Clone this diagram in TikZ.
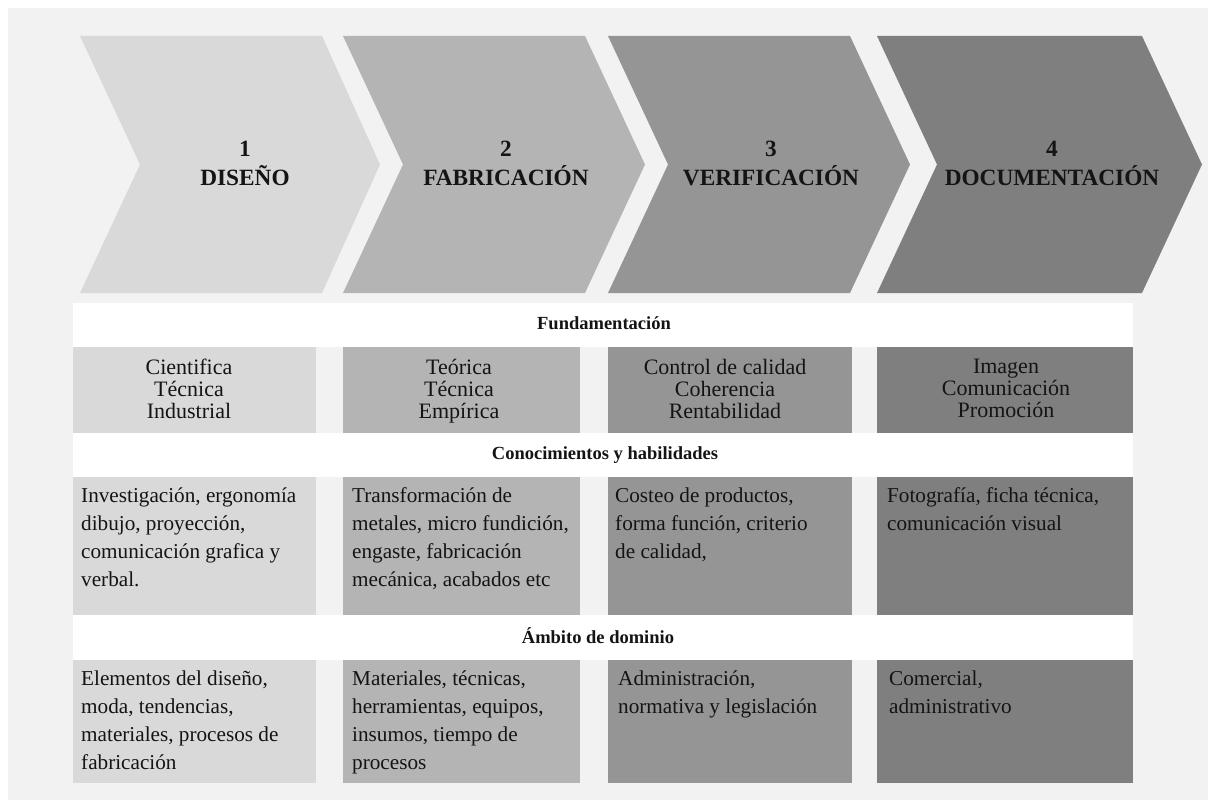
\documentclass[tikz,border=0pt]{standalone}
\usepackage{fontspec}
\setmainfont{Liberation Serif}
\definecolor{bg}{HTML}{F2F2F2}
\definecolor{cA}{HTML}{D9D9D9}
\definecolor{cB}{HTML}{B4B4B4}
\definecolor{cC}{HTML}{959595}
\definecolor{cD}{HTML}{7F7F7F}
\definecolor{ink}{HTML}{141414}
\begin{document}
\begin{tikzpicture}[x=1pt,y=-1pt,
  title/.style={font=\bfseries\fontsize{23.3}{29}\selectfont, align=center, text=ink, inner sep=0},
  head/.style={font=\bfseries\fontsize{18.5}{22}\selectfont, anchor=base, text=ink, inner sep=0},
  fund/.style={font=\fontsize{22}{22}\selectfont, align=center, anchor=north, text=ink, inner sep=0},
  body/.style={font=\fontsize{21.2}{28}\selectfont, align=left, anchor=north west, text=ink, inner sep=0}]
\useasboundingbox (0,0) rectangle (1208,800);
\fill[white] (0,0) rectangle (1208,800);
\fill[bg] (8,8) rectangle (1208,800);
% chevrons
\fill[cA] (80,36) -- (322,36) -- (380,164.5) -- (322,293) -- (80,293) -- (140,164.5) -- cycle;
\fill[cB] (343,36) -- (585,36) -- (645,164.5) -- (585,293) -- (343,293) -- (403,164.5) -- cycle;
\fill[cC] (608,36) -- (850,36) -- (910,164.5) -- (850,293) -- (608,293) -- (668,164.5) -- cycle;
\fill[cD] (877,36) -- (1142,36) -- (1202,164.5) -- (1142,293) -- (877,293) -- (937,164.5) -- cycle;
\node[title] (t1) at (245,163.5) {1\\DISEÑO};
\node[title] (t2) at (506,163.5) {2\\FABRICACIÓN};
\node[title] (t3) at (771,163.5) {3\\VERIFICACIÓN};
\node[title] (t4) at (1052,163.5) {4\\DOCUMENTACIÓN};
% header bands
\fill[white] (73,303) rectangle (1133,347);
\fill[white] (73,433) rectangle (1133,477);
\fill[white] (73,615) rectangle (1133,660);
\node[head] (h1) at (604,329) {Fundamentación};
\node[head] (h2) at (605,459) {Conocimientos y habilidades};
\node[head] (h3) at (598,643) {Ámbito de dominio};
% cells
\foreach \ya/\yb in {347/433, 477/615, 660/783}{
  \fill[cA] (73,\ya) rectangle (316,\yb);
  \fill[cB] (343,\ya) rectangle (580,\yb);
  \fill[cC] (608,\ya) rectangle (852,\yb);
  \fill[cD] (877,\ya) rectangle (1133,\yb);
}
% row 1
\node[fund] (f1) at (189,359) {Cientifica\\Técnica\\Industrial};
\node[fund] (f2) at (459,359) {Teórica\\Técnica\\Empírica};
\node[fund] (f3) at (725,359) {Control de calidad\\Coherencia\\Rentabilidad};
\node[fund] (f4) at (1006,359) {Imagen\\Comunicación\\Promoción};
% row 2
\node[body] (k1) at (81,487.7) {Investigación, ergonomía\\dibujo, proyección,\\comunicación grafica y\\verbal.};
\node[body] (k2) at (352,487.7) {Transformación de\\metales, micro fundición,\\engaste, fabricación\\mecánica, acabados etc};
\node[body] (k3) at (615,487.7) {Costeo de productos,\\forma función, criterio\\de calidad,};
\node[body] (k4) at (887,487.7) {Fotografía, ficha técnica,\\comunicación visual};
% row 3
\node[body] (d1) at (81,670.7) {Elementos del diseño,\\moda, tendencias,\\materiales, procesos de\\fabricación};
\node[body] (d2) at (352,670.7) {Materiales, técnicas,\\herramientas, equipos,\\insumos, tiempo de\\procesos};
\node[body] (d3) at (618,670.7) {Administración,\\normativa y legislación};
\node[body] (d4) at (889,670.7) {Comercial,\\administrativo};
\end{tikzpicture}
\end{document}
